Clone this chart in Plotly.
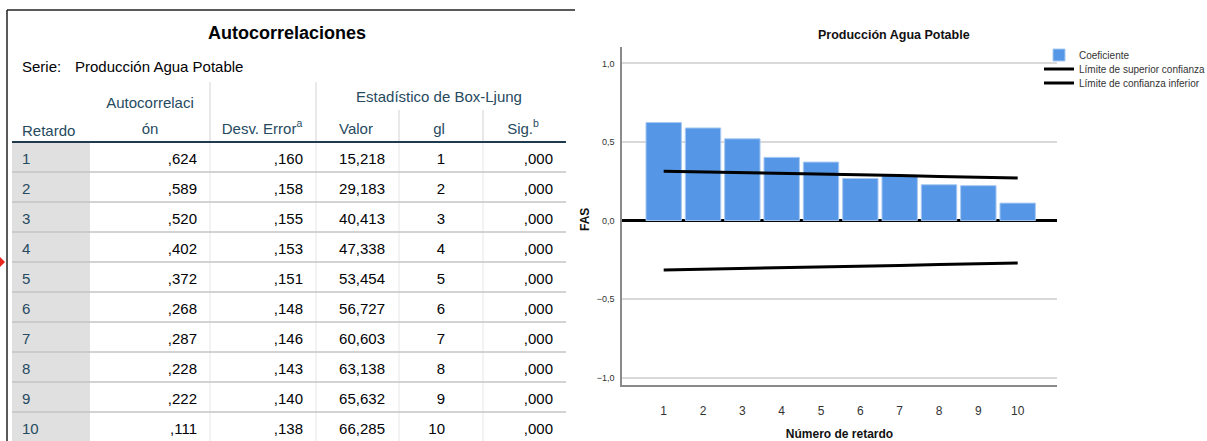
import plotly.graph_objects as go

# ---- data: autocorrelations of "Producción Agua Potable" ----
lags = [1, 2, 3, 4, 5, 6, 7, 8, 9, 10]
acf = [0.624, 0.589, 0.520, 0.402, 0.372, 0.268, 0.287, 0.228, 0.222, 0.111]
std_err = [0.160, 0.158, 0.155, 0.153, 0.151, 0.148, 0.146, 0.143, 0.140, 0.138]
box_ljung = [15.218, 29.183, 40.413, 47.338, 53.454, 56.727, 60.603, 63.138, 65.632, 66.285]
dof = [1, 2, 3, 4, 5, 6, 7, 8, 9, 10]
sig = [0.000, 0.000, 0.000, 0.000, 0.000, 0.000, 0.000, 0.000, 0.000, 0.000]
upper_conf = [0.314, 0.310, 0.304, 0.300, 0.296, 0.290, 0.286, 0.280, 0.274, 0.270]
lower_conf = [-0.314, -0.310, -0.304, -0.300, -0.296, -0.290, -0.286, -0.280, -0.274, -0.270]

W, H = 1207, 441
FONT = "Liberation Sans, Arial, sans-serif"
LABEL_C = "#264a60"
VALUE_C = "#010205"
DY = 2  # small baseline correction for text traces


def spss_num(v, nd=3):
    s = f"{v:.{nd}f}"
    if s.startswith("0."):
        s = s[1:]
    return s.replace(".", ",")


fig = go.Figure()

# ---------------- table (pixel-unit axes x2 / y2) ----------------
TX = [12, 90, 210, 316, 399, 483, 566]   # column edges
HEAD_BOTTOM = 142
ROW_H = 30
row_y = [HEAD_BOTTOM + (k - 0.5) * ROW_H + 1 for k in lags]


def table_text(xs, ys, texts, pos, color, size=15, weight="normal"):
    fig.add_trace(go.Scatter(
        x=xs, y=[y + DY for y in ys], text=texts, mode="text", textposition=pos,
        textfont=dict(family=FONT, size=size, color=color, weight=weight),
        xaxis="x2", yaxis="y2", showlegend=False, hoverinfo="skip",
        cliponaxis=False))


# body cells
table_text([22] * 10, row_y, [str(v) for v in lags], "middle right", LABEL_C)
table_text([197] * 10, row_y, [spss_num(v) for v in acf], "middle left", VALUE_C)
table_text([303] * 10, row_y, [spss_num(v) for v in std_err], "middle left", VALUE_C)
table_text([385] * 10, row_y, [spss_num(v) for v in box_ljung], "middle left", VALUE_C)
table_text([445] * 10, row_y, [str(v) for v in dof], "middle left", VALUE_C)
table_text([553] * 10, row_y, [spss_num(v) for v in sig], "middle left", VALUE_C)

# header cells
table_text([22], [130], ["Retardo"], "middle right", LABEL_C)
table_text([150, 150], [102, 128], ["Autocorrelaci", "ón"], "middle center", LABEL_C)
table_text([262], [128], ["Desv. Error<sup>a</sup>"], "middle center", LABEL_C)
table_text([439], [96], ["Estadístico de Box-Ljung"], "middle center", LABEL_C)
table_text([356, 439, 523], [128, 128, 128],
           ["Valor", "gl", "Sig.<sup>b</sup>"], "middle center", LABEL_C)

# table title and series name
table_text([287], [32], ["Autocorrelaciones"], "middle center", VALUE_C, size=18, weight="bold")
table_text([22, 75], [66, 66], ["Serie:", "Producción Agua Potable"], "middle right", VALUE_C)

shapes = []


def tline(x0, y0, x1, y1, color, width):
    shapes.append(dict(type="line", xref="x2", yref="y2", x0=x0, y0=y0, x1=x1, y1=y1,
                       line=dict(color=color, width=width)))


# label column shading
shapes.append(dict(type="rect", xref="x2", yref="y2", x0=TX[0], x1=TX[1],
                   y0=HEAD_BOTTOM, y1=H, fillcolor="#e0e0e0", line_width=0, layer="below"))
# outer frame
tline(7, 10, 575, 10, "#222222", 1.5)
tline(7, 10, 7, H, "#222222", 1.5)
# header separators
tline(TX[2], 82, TX[2], HEAD_BOTTOM, "#e2e2e2", 1.5)
tline(TX[3], 82, TX[3], HEAD_BOTTOM, "#e2e2e2", 1.5)
tline(TX[4], 110, TX[4], HEAD_BOTTOM, "#e2e2e2", 1.5)
tline(TX[5], 110, TX[5], HEAD_BOTTOM, "#e2e2e2", 1.5)
# body verticals
for xe in TX[2:6]:
    tline(xe, HEAD_BOTTOM, xe, H, "#e6e6e6", 1)
# row separators
for k in lags[:-1]:
    yy = HEAD_BOTTOM + k * ROW_H
    tline(TX[0], yy, TX[-1], yy, "#c4c4c4", 1.5)
# header bottom rule
tline(TX[0], HEAD_BOTTOM, TX[-1], HEAD_BOTTOM, "#1f3a4d", 2)
# selection marker at the left edge
shapes.append(dict(type="path", xref="x2", yref="y2", path="M 0 257 L 5 262 L 0 267 Z",
                   fillcolor="#e8271c", line_width=0))

# ---------------- ACF chart ----------------
fig.add_trace(go.Bar(
    x=lags, y=acf, name="Coeficiente", width=0.9,
    marker=dict(color="#5596e6", line=dict(color="#a8c9f2", width=1)),
    xaxis="x", yaxis="y", legend="legend"))
fig.add_trace(go.Scatter(
    x=lags, y=upper_conf, mode="lines", name="Límite de superior confianza",
    line=dict(color="#000000", width=3), xaxis="x", yaxis="y", legend="legend2"))
fig.add_trace(go.Scatter(
    x=lags, y=lower_conf, mode="lines", name="Límite de confianza inferior",
    line=dict(color="#000000", width=3), xaxis="x", yaxis="y", legend="legend3"))

PX0, PX1 = 622, 1057
PY0, PY1 = 47, 385


def legend_at(ypx):
    return dict(x=1039 / W, xanchor="left", y=1 - ypx / H, yanchor="middle",
                font=dict(family=FONT, size=10, color="#333333"),
                bgcolor="rgba(0,0,0,0)", itemwidth=30)


fig.update_layout(
    width=W, height=H,
    margin=dict(l=0, r=0, t=0, b=0, autoexpand=False),
    paper_bgcolor="white", plot_bgcolor="white",
    separators=",.",
    font=dict(family=FONT, color="#333333"),
    shapes=shapes,
    showlegend=True,
    legend=legend_at(55),
    legend2=legend_at(69),
    legend3=legend_at(83),
    xaxis=dict(domain=[PX0 / W, PX1 / W], range=[-0.06, 11.0],
               tickmode="array", tickvals=lags, ticks="", ticklabelstandoff=14,
               tickfont=dict(size=12, color="#333333"),
               showgrid=False, showline=True, linecolor="#8a8a8a", linewidth=1.5,
               zeroline=False, fixedrange=True,
               title=dict(text="Número de retardo", standoff=17,
                          font=dict(size=12, color="#111111", weight="bold"))),
    yaxis=dict(domain=[1 - PY1 / H, 1 - PY0 / H], range=[-1.046, 1.104],
               tickmode="array", tickvals=[-1.0, -0.5, 0.0, 0.5, 1.0], tickformat=".1f",
               ticks="", ticklabelstandoff=4,
               tickfont=dict(size=9, color="#333333"),
               showgrid=True, gridcolor="#d9d9d9", gridwidth=1.5,
               showline=True, linecolor="#8a8a8a", linewidth=1.5,
               zeroline=True, zerolinecolor="#000000", zerolinewidth=3,
               fixedrange=True),
    xaxis2=dict(domain=[0, 580 / W], range=[0, 580], visible=False, fixedrange=True),
    yaxis2=dict(domain=[0, 1], range=[H, 0], visible=False, fixedrange=True,
                anchor="x2"),
    annotations=[
        dict(text="Producción Agua Potable", xref="paper", yref="paper",
             x=894 / W, y=1 - 35 / H, xanchor="center", yanchor="middle",
             showarrow=False,
             font=dict(family=FONT, size=12.5, color="#111111", weight="bold")),
        dict(text="FAS", xref="paper", yref="paper", textangle=-90,
             x=585 / W, y=1 - 220 / H, xanchor="center", yanchor="middle",
             showarrow=False,
             font=dict(family=FONT, size=12, color="#111111", weight="bold")),
    ],
)

fig.write_html("out.html")
